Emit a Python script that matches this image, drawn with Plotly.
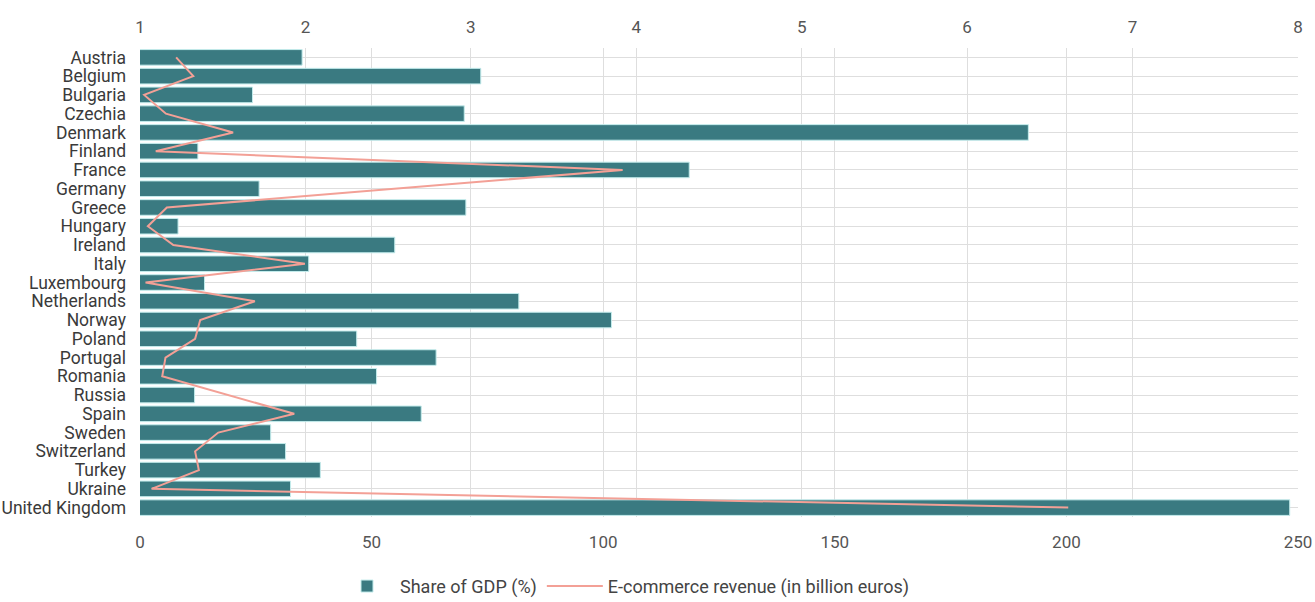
import plotly.graph_objects as go

countries = ["Austria", "Belgium", "Bulgaria", "Czechia", "Denmark", "Finland", "France",
             "Germany", "Greece", "Hungary", "Ireland", "Italy", "Luxembourg", "Netherlands",
             "Norway", "Poland", "Portugal", "Romania", "Russia", "Spain", "Sweden",
             "Switzerland", "Turkey", "Ukraine", "United Kingdom"]

share_gdp = [1.98, 3.06, 1.68, 2.96, 6.37, 1.35, 4.32, 1.72, 2.97, 1.23, 2.54, 2.02, 1.39,
             3.29, 3.85, 2.31, 2.79, 2.43, 1.33, 2.70, 1.79, 1.88, 2.09, 1.91, 7.95]

ecommerce = [7.8, 11.5, 0.9, 5.6, 20.1, 3.4, 104.2, None, 5.8, 1.7, 7.2, 35.6, 1.2,
             24.8, 13.0, 11.9, 5.5, 4.8, None, 33.3, 16.9, 11.9, 12.7, 2.5, 200.4]

gdp_ticks = [1, 2, 3, 4, 5, 6, 7, 8]
rev_ticks = [0, 50, 100, 150, 200, 250]

TEAL = "#3a7a81"
SALMON = "#f3a096"
GRID = "#dedede"
FONT = "Roboto"

fig = go.Figure()
fig.add_trace(go.Bar(
    y=countries, x=share_gdp, orientation="h", name="Share of GDP (%)",
    marker=dict(color=TEAL, line=dict(color="#c4ecec", width=1)),
    xaxis="x", yaxis="y",
))
fig.add_trace(go.Scatter(
    y=countries, x=ecommerce, mode="lines", name="E-commerce revenue (in billion euros)",
    line=dict(color=SALMON, width=2), connectgaps=True,
    xaxis="x2", yaxis="y",
))

n = len(countries)
fig.update_layout(
    width=1315, height=602,
    margin=dict(l=140, r=17, t=48, b=85),
    paper_bgcolor="white", plot_bgcolor="white",
    font=dict(family=FONT, size=15, color="#444"),
    bargap=0.17,
    showlegend=True,
    legend=dict(orientation="h", xref="container", yref="container",
                x=0.254, xanchor="left", y=0.026, yanchor="middle",
                font=dict(size=18, color="#444"), itemwidth=56, traceorder="normal"),
    xaxis=dict(range=[gdp_ticks[0], gdp_ticks[-1]], side="top", tickvals=gdp_ticks,
               showgrid=True, gridcolor=GRID, gridwidth=1, zeroline=False, showline=False,
               ticks="", tickfont=dict(size=17, color="#555"), ticklabelstandoff=11,
               automargin=False),
    xaxis2=dict(range=[rev_ticks[0], rev_ticks[-1]], overlaying="x", side="bottom",
                tickvals=rev_ticks, showgrid=True, gridcolor=GRID, gridwidth=1,
                zeroline=False, showline=False, ticks="",
                tickfont=dict(size=17, color="#555"), ticklabelstandoff=13,
                automargin=False),
    yaxis=dict(type="category", categoryorder="array", categoryarray=countries,
               tickmode="array", tickvals=countries, ticktext=countries,
               range=[n - 0.5, -0.5], showgrid=True, gridcolor=GRID, gridwidth=1,
               zeroline=False, showline=False, ticks="",
               tickfont=dict(size=17.5, color="#3a3a3a"), ticklabelstandoff=13,
               automargin=False),
)

fig.write_html("out.html")
